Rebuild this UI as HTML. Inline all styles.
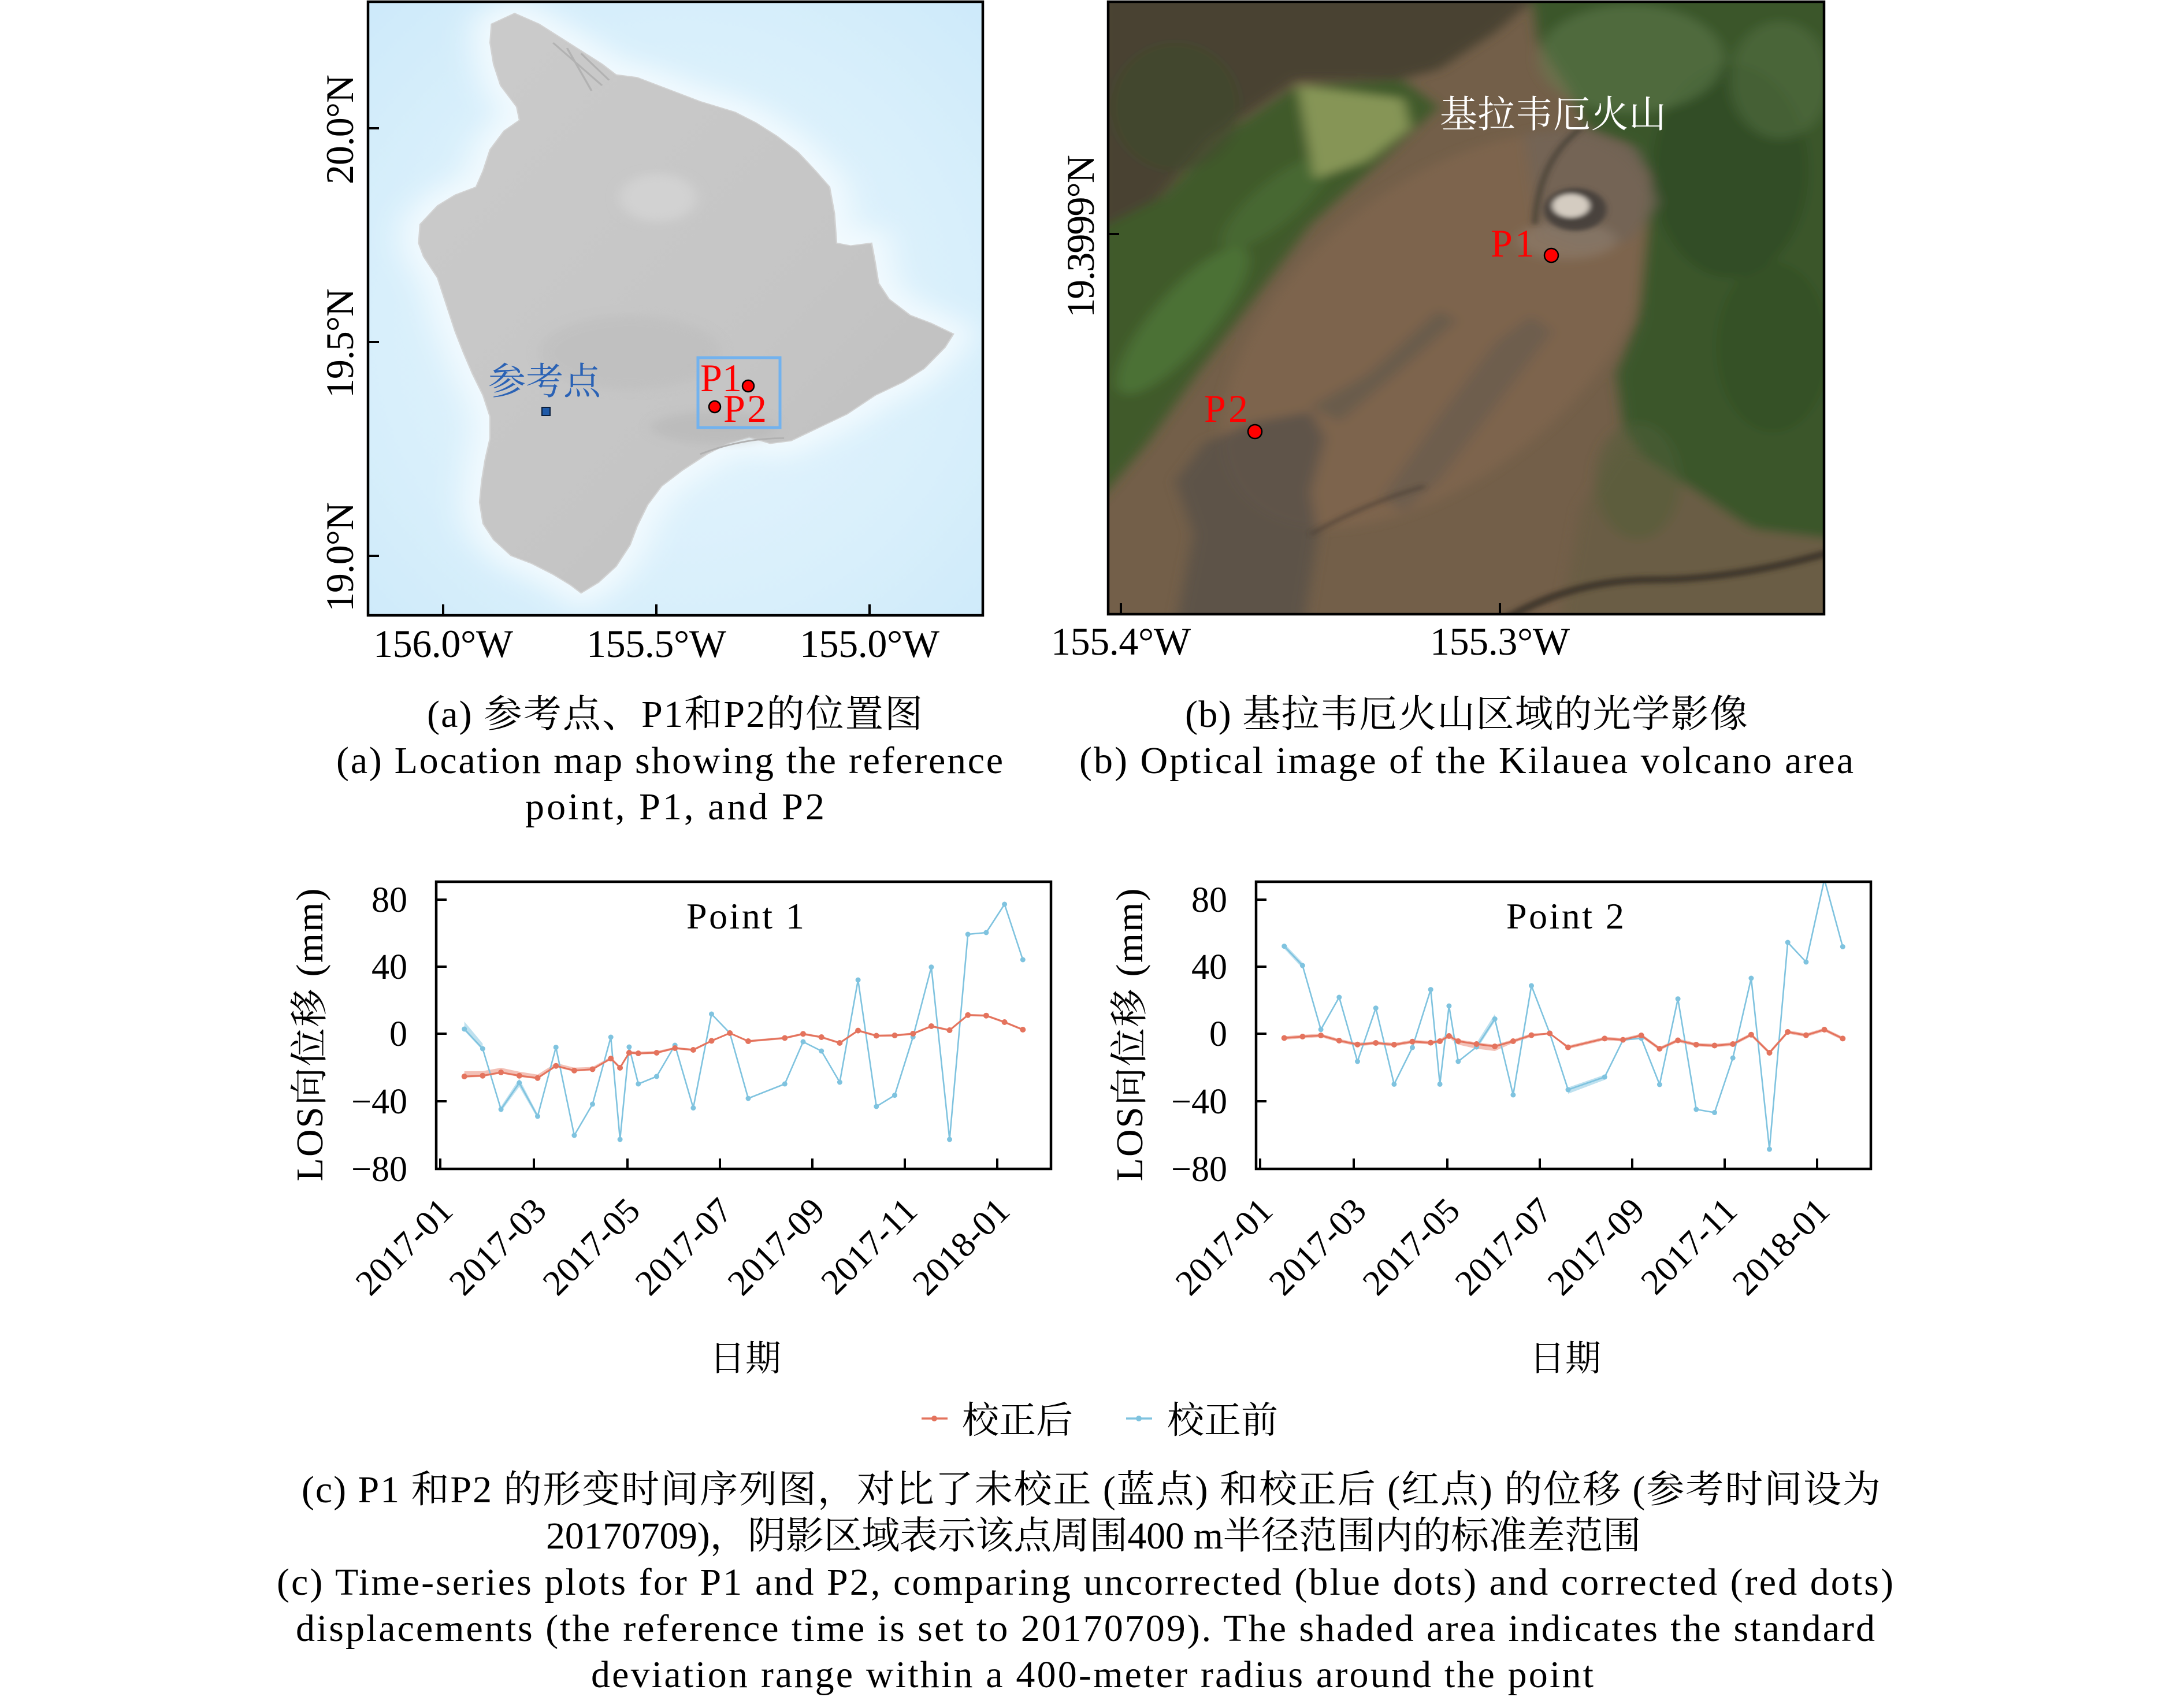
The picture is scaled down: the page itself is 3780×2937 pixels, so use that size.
<!DOCTYPE html>
<html><head><meta charset="utf-8"><style>
html,body{margin:0;padding:0;background:#fff;}
svg{display:block;}
text{font-family:"Liberation Serif","Noto Serif CJK SC",serif;}
</style></head><body>
<svg width="3780" height="2937" viewBox="0 0 3780 2937" xmlns="http://www.w3.org/2000/svg">
<defs>
 <clipPath id="ca"><rect x="637" y="3" width="1064" height="1062"/></clipPath>
 <clipPath id="cb"><rect x="1918" y="3" width="1239" height="1060"/></clipPath>
 <clipPath id="c1"><rect x="755" y="1526" width="1064" height="497"/></clipPath>
 <filter id="bl" x="-20%" y="-20%" width="140%" height="140%"><feGaussianBlur stdDeviation="9"/></filter>
 <filter id="bls" x="-20%" y="-20%" width="140%" height="140%"><feGaussianBlur stdDeviation="4"/></filter>
 <filter id="bl2" x="-30%" y="-30%" width="160%" height="160%"><feGaussianBlur stdDeviation="22"/></filter>
 <radialGradient id="sea" cx="1170" cy="560" r="850" gradientUnits="userSpaceOnUse">
  <stop offset="0" stop-color="#e6f5fd"/><stop offset="0.6" stop-color="#d8effb"/><stop offset="1" stop-color="#cae8f9"/>
 </radialGradient>
 <linearGradient id="isl" x1="0" y1="0" x2="1" y2="1">
  <stop offset="0" stop-color="#cbcbcb"/><stop offset="0.6" stop-color="#c5c5c5"/><stop offset="1" stop-color="#bdbdbd"/>
 </linearGradient>
 <marker id="mb" markerUnits="userSpaceOnUse" markerWidth="12" markerHeight="12" refX="6" refY="6" viewBox="0 0 12 12"><circle cx="6" cy="6" r="4.5" fill="#7fc3df"/></marker>
 <marker id="mr" markerUnits="userSpaceOnUse" markerWidth="12" markerHeight="12" refX="6" refY="6" viewBox="0 0 12 12"><circle cx="6" cy="6" r="5" fill="#e4735d"/></marker>
</defs>

<!-- ============ MAP A ============ -->
<g clip-path="url(#ca)">
 <rect x="637" y="3" width="1064" height="1062" fill="url(#sea)"/>
 <g transform="scale(1.2117,0.9247)">
  <polygon filter="url(#bl2)" fill="#f2fafe" stroke="#f2fafe" stroke-width="50" points="702,45 735,25 770,45 800,70 830,95 860,120 880,140 910,145 950,165 1000,190 1050,210 1080,230 1110,255 1140,285 1165,320 1185,350 1192,400 1195,455 1215,460 1245,455 1250,490 1255,530 1270,560 1300,590 1330,605 1362,625 1350,650 1320,690 1290,715 1250,740 1210,775 1170,800 1130,825 1100,830 1070,818 1040,830 1010,850 975,880 945,910 925,945 910,985 900,1020 880,1060 855,1090 830,1110 815,1095 790,1075 760,1055 730,1040 705,1010 690,980 685,940 688,900 693,860 700,820 700,780 690,740 675,700 662,660 650,620 635,560 625,520 605,480 598,455 600,420 625,385 650,365 680,350 690,320 700,280 720,245 742,225 738,200 715,160 705,120 700,80"/>
  <polygon fill="url(#isl)" stroke="#d2d2d2" stroke-width="2" points="702,45 735,25 770,45 800,70 830,95 860,120 880,140 910,145 950,165 1000,190 1050,210 1080,230 1110,255 1140,285 1165,320 1185,350 1192,400 1195,455 1215,460 1245,455 1250,490 1255,530 1270,560 1300,590 1330,605 1362,625 1350,650 1320,690 1290,715 1250,740 1210,775 1170,800 1130,825 1100,830 1070,818 1040,830 1010,850 975,880 945,910 925,945 910,985 900,1020 880,1060 855,1090 830,1110 815,1095 790,1075 760,1055 730,1040 705,1010 690,980 685,940 688,900 693,860 700,820 700,780 690,740 675,700 662,660 650,620 635,560 625,520 605,480 598,455 600,420 625,385 650,365 680,350 690,320 700,280 720,245 742,225 738,200 715,160 705,120 700,80"/>
  <ellipse cx="940" cy="370" rx="55" ry="45" fill="#d2d2d2" filter="url(#bl)"/>
  <ellipse cx="900" cy="660" rx="130" ry="70" fill="#bbbbbb" opacity="0.5" filter="url(#bl)"/>
  <ellipse cx="1020" cy="800" rx="90" ry="30" fill="#b4b4b4" opacity="0.5" filter="url(#bl)"/>
  <path d="M790 80 L860 160 M810 90 L845 170 M830 100 L870 150" stroke="#a4a4a4" stroke-width="3" fill="none" opacity="0.6"/>
  <path d="M1000 850 Q1060 820 1120 820" stroke="#b0b0b0" stroke-width="3" fill="none"/>
 </g>
 <rect x="938" y="705" width="14" height="14" fill="#1f5aa8" stroke="#0a1e3c" stroke-width="2"/>
 <text x="845" y="682" font-size="65" fill="#2a62b5" textLength="195">参考点</text>
 <rect x="1208" y="619" width="142" height="121" fill="none" stroke="#72b2ee" stroke-width="5"/>
 <circle cx="1295" cy="668" r="10" fill="#ff0000" stroke="#000" stroke-width="2.5"/>
 <circle cx="1237" cy="704" r="10" fill="#ff0000" stroke="#000" stroke-width="2.5"/>
 <text x="1212" y="677" font-size="68" fill="#ff0000" textLength="72">P1</text>
 <text x="1252" y="730" font-size="68" fill="#ff0000" textLength="75">P2</text>
</g>
<rect x="637" y="3" width="1064" height="1062" fill="none" stroke="#000" stroke-width="4.5"/>
<g stroke="#000" stroke-width="4">
 <line x1="637" y1="222" x2="656" y2="222"/><line x1="637" y1="592" x2="656" y2="592"/><line x1="637" y1="962" x2="656" y2="962"/>
 <line x1="767" y1="1065" x2="767" y2="1046"/><line x1="1136" y1="1065" x2="1136" y2="1046"/><line x1="1505" y1="1065" x2="1505" y2="1046"/>
</g>
<g font-size="68" fill="#000">
 <text x="767" y="1137" text-anchor="middle" textLength="242">156.0°W</text>
 <text x="1136" y="1137" text-anchor="middle" textLength="242">155.5°W</text>
 <text x="1505" y="1137" text-anchor="middle" textLength="242">155.0°W</text>
 <text transform="translate(611,224) rotate(-90)" text-anchor="middle" textLength="190">20.0°N</text>
 <text transform="translate(611,594) rotate(-90)" text-anchor="middle" textLength="190">19.5°N</text>
 <text transform="translate(611,964) rotate(-90)" text-anchor="middle" textLength="190">19.0°N</text>
</g>

<!-- ============ MAP B ============ -->
<g clip-path="url(#cb)">
 <rect x="1918" y="3" width="1239" height="1060" fill="#735f49"/>
 <g transform="translate(1850,0) scale(1.2309,0.9247)">
  <g filter="url(#bl)">
   <ellipse cx="520" cy="620" rx="230" ry="420" transform="rotate(35 520 620)" fill="#83684f" opacity="0.6"/>
   <polygon fill="#4a4332" points="40,-20 670,-20 600,60 520,130 460,150 320,150 200,260 120,380 40,430"/>
   <polygon fill="#3f5a2c" points="40,430 130,370 210,260 320,160 470,150 520,200 440,300 340,420 260,560 180,700 110,830 40,940"/>
   <ellipse cx="160" cy="600" rx="45" ry="160" transform="rotate(32 160 600)" fill="#55803a" opacity="0.6"/>
   <ellipse cx="290" cy="380" rx="35" ry="110" transform="rotate(40 290 380)" fill="#4f7636" opacity="0.5"/>
   <ellipse cx="150" cy="200" rx="90" ry="120" fill="#3f4a2c" opacity="0.6"/>
   <polygon fill="#869556" points="322,160 470,185 480,240 420,300 345,335"/>
   <polygon fill="#3b572b" points="650,-20 1080,-20 1080,1010 980,1000 900,950 820,880 780,800 770,700 800,600 810,470 820,330 790,270 730,240 700,160 660,80"/>
   <ellipse cx="930" cy="320" rx="110" ry="200" fill="#2e4a23" opacity="0.7"/>
   <ellipse cx="990" cy="650" rx="80" ry="160" fill="#304c25" opacity="0.6"/>
   <ellipse cx="790" cy="110" rx="130" ry="100" fill="#66804f" opacity="0.5"/>
   <ellipse cx="1000" cy="150" rx="70" ry="110" fill="#5a7447" opacity="0.5"/>
   <polygon fill="#6b5d45" points="690,1170 720,950 780,830 860,900 960,990 1080,1010 1080,1170"/>
   <ellipse cx="800" cy="900" rx="60" ry="110" fill="#4f5d37" opacity="0.5"/>
   <polygon fill="#5b5148" opacity="0.85" points="190,830 260,790 340,770 360,820 340,920 350,1000 330,1170 150,1170 175,1000 150,900"/>
   <polygon fill="#5d544b" opacity="0.55" points="340,760 420,700 520,580 545,600 460,700 380,790"/>
   <polygon fill="#625950" opacity="0.55" points="440,930 520,780 600,640 650,590 680,620 600,760 520,900 470,960"/>
   <polygon fill="#706459" opacity="0.7" points="640,250 720,240 800,280 830,380 790,450 720,470 660,440"/>
   <ellipse cx="700" cy="450" rx="70" ry="35" fill="#8f7f70" opacity="0.6"/>
  </g>
  <g filter="url(#bls)">
   <ellipse cx="712" cy="392" rx="44" ry="40" fill="#4a433c"/>
   <ellipse cx="706" cy="385" rx="26" ry="22" fill="#d4ccc1"/>
   <path d="M600 1170 Q700 1085 820 1085 T1080 1030" stroke="#3a3027" stroke-width="14" fill="none" opacity="0.8"/>
   <path d="M655 420 Q660 300 720 240" stroke="#3d3731" stroke-width="8" fill="none" opacity="0.7"/>
   <path d="M340 1000 Q420 940 500 910" stroke="#473d33" stroke-width="6" fill="none" opacity="0.7"/>
  </g>
 </g>
 <text x="2492" y="220" font-size="65" fill="#ffffff" textLength="392">基拉韦厄火山</text>
 <text x="2580" y="444" font-size="68" fill="#ff0000" textLength="76">P1</text>
 <circle cx="2685" cy="442" r="12" fill="#ff0000" stroke="#000" stroke-width="2.5"/>
 <text x="2084" y="730" font-size="68" fill="#ff0000" textLength="76">P2</text>
 <circle cx="2172" cy="747" r="12" fill="#ff0000" stroke="#000" stroke-width="2.5"/>
</g>
<rect x="1918" y="3" width="1239" height="1060" fill="none" stroke="#000" stroke-width="4.5"/>
<g stroke="#000" stroke-width="4">
 <line x1="1918" y1="405" x2="1937" y2="405"/>
 <line x1="1940" y1="1063" x2="1940" y2="1044"/><line x1="2596" y1="1063" x2="2596" y2="1044"/>
</g>
<g font-size="68" fill="#000">
 <text x="1940" y="1133" text-anchor="middle" textLength="242">155.4°W</text>
 <text x="2596" y="1133" text-anchor="middle" textLength="242">155.3°W</text>
 <text transform="translate(1893,409) rotate(-90)" text-anchor="middle" textLength="282">19.3999°N</text>
</g>

<!-- captions a / b -->
<g font-size="66" fill="#000">
 <text x="739" y="1258" textLength="858">(a) 参考点、P1和P2的位置图</text>
 <text x="582" y="1338" textLength="1154">(a) Location map showing the reference</text>
 <text x="909" y="1418" textLength="518">point, P1, and P2</text>
 <text x="2051" y="1258" textLength="974">(b) 基拉韦厄火山区域的光学影像</text>
 <text x="1868" y="1338" textLength="1340">(b) Optical image of the Kilauea volcano area</text>
</g>

<!-- ============ CHART 1 ============ -->
<g id="chart1">
 <g clip-path="url(#c1)">
  <polygon fill="#e4735d" opacity="0.45" points="803.7,1854 835.4,1853.7 867.1,1848 898.8,1854.7 930.5,1859.7 962.2,1839.7 993.9,1847.8 1025.5,1846.5 1057.2,1829 1073.1,1845 1088.9,1819 1104.8,1820 1136.5,1819 1168.2,1812 1199.9,1815 1231.5,1799.4 1263.2,1787 1295,1800 1358.3,1794.5 1390,1787.4 1421.7,1793 1453.4,1803 1485.1,1781.6 1516.8,1790.5 1548.5,1790 1580.2,1787 1611.9,1774 1643.5,1781 1675.2,1754.8 1706.9,1755.7 1738.6,1767 1770.3,1780 1770.3,1784 1738.6,1771 1706.9,1759.7 1675.2,1758.8 1643.5,1785 1611.9,1778 1580.2,1791 1548.5,1794 1516.8,1794.5 1485.1,1785.6 1453.4,1807 1421.7,1797 1390,1791.4 1358.3,1798.5 1295,1804 1263.2,1789 1231.5,1803.4 1199.9,1819 1168.2,1816 1136.5,1824 1104.8,1825 1088.9,1824 1073.1,1850 1057.2,1834 1025.5,1852.5 993.9,1854.8 962.2,1846.7 930.5,1867.7 898.8,1863.7 867.1,1858 835.4,1863.7 803.7,1865"/>
  <polygon fill="#7fc3df" opacity="0.5" points="803.7,1768 835.4,1806 835.4,1818 803.7,1784"/>
  <polygon fill="#7fc3df" opacity="0.5" points="867.1,1915 898.8,1867 930.5,1928 930.5,1936 898.8,1881 867.1,1924"/>
  <polyline fill="none" stroke="#7fc3df" stroke-width="2.6" stroke-linejoin="round" marker-start="url(#mb)" marker-mid="url(#mb)" marker-end="url(#mb)" points="803.7,1781 835.4,1815 867.1,1920 898.8,1874 930.5,1932 962.2,1812.6 993.9,1965 1025.5,1911 1057.2,1795 1073.1,1972 1088.9,1812 1104.8,1876 1136.5,1863 1168.2,1809 1199.9,1917.5 1231.5,1755 1263.2,1788 1295,1901 1358.3,1876 1390,1803 1421.7,1819 1453.4,1873 1485.1,1696 1516.8,1915 1548.5,1895.6 1580.2,1794.7 1611.9,1673.8 1643.5,1972 1675.2,1617 1706.9,1614 1738.6,1565 1770.3,1661"/>
  <polyline fill="none" stroke="#e4735d" stroke-width="3" stroke-linejoin="round" marker-start="url(#mr)" marker-mid="url(#mr)" marker-end="url(#mr)" points="803.7,1863 835.4,1861.7 867.1,1856 898.8,1861.7 930.5,1865.7 962.2,1844.7 993.9,1852.8 1025.5,1850.5 1057.2,1832 1073.1,1848 1088.9,1822 1104.8,1823 1136.5,1822 1168.2,1814 1199.9,1817 1231.5,1801.4 1263.2,1788 1295,1802 1358.3,1796.5 1390,1789.4 1421.7,1795 1453.4,1805 1485.1,1783.6 1516.8,1792.5 1548.5,1792 1580.2,1789 1611.9,1776 1643.5,1783 1675.2,1756.8 1706.9,1757.7 1738.6,1769 1770.3,1782"/>
 </g>
 <text x="1290" y="1607" font-size="64" text-anchor="middle" textLength="204">Point 1</text>
</g>

<!-- ============ CHART 2 ============ -->
<g transform="translate(1419,0)">
 <g clip-path="url(#c1)">
  <polygon fill="#e4735d" opacity="0.45" points="803.7,1793.5 835.4,1791 867.1,1789 898.8,1798 930.5,1804.7 962.2,1802 993.9,1805 1025.5,1799.8 1057.2,1801.6 1073.1,1799 1088.9,1788 1104.8,1799 1136.5,1804 1168.2,1808 1199.9,1799 1231.5,1788.6 1263.2,1787.5 1295,1809.6 1358.3,1794.4 1390,1796.6 1421.7,1789 1453.4,1812 1485.1,1797.5 1516.8,1805 1548.5,1806.5 1580.2,1804 1611.9,1787.7 1643.5,1819 1675.2,1783 1706.9,1788.6 1738.6,1779 1770.3,1794.4 1770.3,1800.4 1738.6,1785 1706.9,1794.6 1675.2,1789 1643.5,1825 1611.9,1793.7 1580.2,1810 1548.5,1812.5 1516.8,1811 1485.1,1803.5 1453.4,1818 1421.7,1795 1390,1802.6 1358.3,1800.4 1295,1815.6 1263.2,1789.5 1231.5,1794.6 1199.9,1805 1168.2,1819 1136.5,1815 1104.8,1808 1088.9,1796 1073.1,1805 1057.2,1807.6 1025.5,1805.8 993.9,1811 962.2,1808 930.5,1810.7 898.8,1804 867.1,1795 835.4,1797 803.7,1799.5"/>
  <polygon fill="#7fc3df" opacity="0.5" points="1136.5,1805 1168.2,1755 1168.2,1768 1136.5,1817"/>
  <polygon fill="#7fc3df" opacity="0.5" points="1295,1882 1358.3,1860 1358.3,1869 1295,1893"/>
  <polygon fill="#7fc3df" opacity="0.5" points="803.7,1633 835.4,1666 835.4,1676 803.7,1642"/>
  <polyline fill="none" stroke="#7fc3df" stroke-width="2.6" stroke-linejoin="round" marker-start="url(#mb)" marker-mid="url(#mb)" marker-end="url(#mb)" points="803.7,1637.6 835.4,1671 867.1,1781.8 898.8,1726 930.5,1837 962.2,1744.7 993.9,1876.4 1025.5,1813 1057.2,1712.6 1073.1,1876.4 1088.9,1741 1104.8,1837 1136.5,1812 1168.2,1763.5 1199.9,1895 1231.5,1706 1263.2,1788 1295,1886 1358.3,1864 1390,1800 1421.7,1797 1453.4,1877 1485.1,1728.7 1516.8,1920 1548.5,1925.5 1580.2,1831 1611.9,1693 1643.5,1989 1675.2,1631 1706.9,1665 1738.6,1522 1770.3,1638.5"/>
  <polyline fill="none" stroke="#e4735d" stroke-width="3" stroke-linejoin="round" marker-start="url(#mr)" marker-mid="url(#mr)" marker-end="url(#mr)" points="803.7,1796.5 835.4,1794 867.1,1792 898.8,1801 930.5,1807.7 962.2,1805 993.9,1808 1025.5,1802.8 1057.2,1804.6 1073.1,1802 1088.9,1793 1104.8,1802 1136.5,1807 1168.2,1811 1199.9,1802 1231.5,1791.6 1263.2,1788.5 1295,1812.6 1358.3,1797.4 1390,1799.6 1421.7,1792 1453.4,1815 1485.1,1800.5 1516.8,1808 1548.5,1809.5 1580.2,1807 1611.9,1790.7 1643.5,1822 1675.2,1786 1706.9,1791.6 1738.6,1782 1770.3,1797.4"/>
 </g>
 <text x="1290" y="1607" font-size="64" text-anchor="middle" textLength="204">Point 2</text>
</g>

<!-- axes for both charts -->
<g id="axes1">
 <rect x="755" y="1526" width="1064" height="497" fill="none" stroke="#000" stroke-width="4.5"/>
 <g stroke="#000" stroke-width="4">
  <line x1="755" y1="1557" x2="773" y2="1557"/><line x1="755" y1="1673" x2="773" y2="1673"/><line x1="755" y1="1789" x2="773" y2="1789"/><line x1="755" y1="1906" x2="773" y2="1906"/>
  <line x1="762" y1="2023" x2="762" y2="2005"/><line x1="924" y1="2023" x2="924" y2="2005"/><line x1="1086" y1="2023" x2="1086" y2="2005"/><line x1="1246" y1="2023" x2="1246" y2="2005"/><line x1="1406" y1="2023" x2="1406" y2="2005"/><line x1="1566" y1="2023" x2="1566" y2="2005"/><line x1="1726" y1="2023" x2="1726" y2="2005"/>
 </g>
 <g font-size="62" fill="#000" text-anchor="end">
  <text x="705" y="1578">80</text><text x="705" y="1694">40</text><text x="705" y="1810">0</text><text x="705" y="1927">−40</text><text x="705" y="2044">−80</text>
  <text transform="translate(787,2099) rotate(-45)">2017-01</text>
  <text transform="translate(949,2099) rotate(-45)">2017-03</text>
  <text transform="translate(1111,2099) rotate(-45)">2017-05</text>
  <text transform="translate(1271,2099) rotate(-45)">2017-07</text>
  <text transform="translate(1431,2099) rotate(-45)">2017-09</text>
  <text transform="translate(1591,2099) rotate(-45)">2017-11</text>
  <text transform="translate(1751,2099) rotate(-45)">2018-01</text>
 </g>
 <text transform="translate(558,1791) rotate(-90)" font-size="66" text-anchor="middle" textLength="507">LOS向位移 (mm)</text>
 <text x="1290" y="2372" font-size="62" text-anchor="middle">日期</text>
</g>
<use href="#axes1" transform="translate(1419,0)"/>

<!-- legend -->
<line x1="1595" y1="2455" x2="1640" y2="2455" stroke="#e4735d" stroke-width="3.5"/>
<circle cx="1617" cy="2455" r="5" fill="#e4735d"/>
<text x="1665" y="2480" font-size="64">校正后</text>
<line x1="1949" y1="2455" x2="1994" y2="2455" stroke="#7fc3df" stroke-width="3.5"/>
<circle cx="1971" cy="2455" r="5" fill="#7fc3df"/>
<text x="2020" y="2480" font-size="64">校正前</text>

<!-- caption c -->
<g font-size="66" fill="#000">
 <text x="522" y="2600" textLength="2733">(c) P1 和P2 的形变时间序列图，对比了未校正 (蓝点) 和校正后 (红点) 的位移 (参考时间设为</text>
 <text x="945" y="2680" textLength="1895">20170709)，阴影区域表示该点周围400 m半径范围内的标准差范围</text>
 <text x="479" y="2760" textLength="2798">(c) Time-series plots for P1 and P2, comparing uncorrected (blue dots) and corrected (red dots)</text>
 <text x="512" y="2840" textLength="2733">displacements (the reference time is set to 20170709). The shaded area indicates the standard</text>
 <text x="1023" y="2920" textLength="1735">deviation range within a 400-meter radius around the point</text>
</g>
</svg>
</body></html>
